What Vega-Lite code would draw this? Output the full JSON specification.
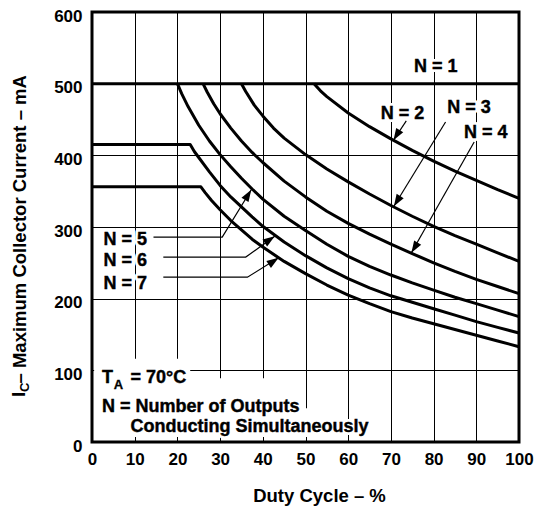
{
  "$schema": "https://vega.github.io/schema/vega-lite/v6.json",
  "width": 427,
  "height": 430,
  "autosize": {"type": "none"},
  "padding": {"left": 92, "top": 12, "right": 19, "bottom": 72},
  "background": "white",
  "config": {
    "font": "Liberation Sans",
    "view": {"stroke": "black", "strokeWidth": 3},
    "axis": {
      "grid": true, "gridColor": "black", "gridOpacity": 1, "gridWidth": 1,
      "domain": false, "ticks": false, "tickSize": 0, "labelFlush": false,
      "labelFontSize": 17, "labelFontWeight": "bold", "labelColor": "black",
      "titleFontSize": 18.5, "titleFontWeight": "bold", "titleColor": "black"
    }
  },
  "datasets": {
    "curves": [
      {"n": "1", "x": 0, "y": 500}, {"n": "1", "x": 100, "y": 500},
      {"n": "2", "x": 52, "y": 500}, {"n": "2", "x": 53.5, "y": 490}, {"n": "2", "x": 55, "y": 482}, {"n": "2", "x": 60, "y": 459}, {"n": "2", "x": 65, "y": 440}, {"n": "2", "x": 70, "y": 423}, {"n": "2", "x": 75, "y": 407}, {"n": "2", "x": 80, "y": 392}, {"n": "2", "x": 85, "y": 378}, {"n": "2", "x": 90, "y": 365}, {"n": "2", "x": 95, "y": 352}, {"n": "2", "x": 100, "y": 340},
      {"n": "3", "x": 35, "y": 500}, {"n": "3", "x": 36, "y": 489}, {"n": "3", "x": 38, "y": 470}, {"n": "3", "x": 40, "y": 455}, {"n": "3", "x": 42.5, "y": 438}, {"n": "3", "x": 45, "y": 424}, {"n": "3", "x": 50, "y": 401}, {"n": "3", "x": 55, "y": 381}, {"n": "3", "x": 60, "y": 363}, {"n": "3", "x": 65, "y": 346}, {"n": "3", "x": 70, "y": 330}, {"n": "3", "x": 75, "y": 315}, {"n": "3", "x": 80, "y": 301}, {"n": "3", "x": 85, "y": 288}, {"n": "3", "x": 90, "y": 276}, {"n": "3", "x": 95, "y": 264}, {"n": "3", "x": 100, "y": 252},
      {"n": "4", "x": 26, "y": 500}, {"n": "4", "x": 27, "y": 488}, {"n": "4", "x": 28.5, "y": 472}, {"n": "4", "x": 30, "y": 458}, {"n": "4", "x": 32.5, "y": 438}, {"n": "4", "x": 35, "y": 420}, {"n": "4", "x": 37.5, "y": 404}, {"n": "4", "x": 40, "y": 390}, {"n": "4", "x": 45, "y": 364}, {"n": "4", "x": 50, "y": 342}, {"n": "4", "x": 55, "y": 322}, {"n": "4", "x": 60, "y": 305}, {"n": "4", "x": 65, "y": 290}, {"n": "4", "x": 70, "y": 276}, {"n": "4", "x": 75, "y": 263}, {"n": "4", "x": 80, "y": 250}, {"n": "4", "x": 85, "y": 238}, {"n": "4", "x": 90, "y": 227}, {"n": "4", "x": 95, "y": 217}, {"n": "4", "x": 100, "y": 207},
      {"n": "5", "x": 20, "y": 500}, {"n": "5", "x": 21, "y": 486}, {"n": "5", "x": 22.5, "y": 468}, {"n": "5", "x": 25, "y": 442}, {"n": "5", "x": 27.5, "y": 420}, {"n": "5", "x": 30, "y": 401}, {"n": "5", "x": 32.5, "y": 384}, {"n": "5", "x": 35, "y": 368}, {"n": "5", "x": 37.5, "y": 353}, {"n": "5", "x": 40, "y": 339}, {"n": "5", "x": 45, "y": 315}, {"n": "5", "x": 50, "y": 295}, {"n": "5", "x": 55, "y": 276}, {"n": "5", "x": 60, "y": 259}, {"n": "5", "x": 65, "y": 245}, {"n": "5", "x": 70, "y": 233}, {"n": "5", "x": 75, "y": 222}, {"n": "5", "x": 80, "y": 212}, {"n": "5", "x": 85, "y": 202}, {"n": "5", "x": 90, "y": 193}, {"n": "5", "x": 95, "y": 184}, {"n": "5", "x": 100, "y": 175},
      {"n": "6", "x": 0, "y": 415}, {"n": "6", "x": 23, "y": 415}, {"n": "6", "x": 24, "y": 405}, {"n": "6", "x": 25, "y": 397}, {"n": "6", "x": 27.5, "y": 377}, {"n": "6", "x": 30, "y": 358}, {"n": "6", "x": 32.5, "y": 342}, {"n": "6", "x": 35, "y": 328}, {"n": "6", "x": 37.5, "y": 314}, {"n": "6", "x": 40, "y": 301}, {"n": "6", "x": 45, "y": 279}, {"n": "6", "x": 50, "y": 260}, {"n": "6", "x": 55, "y": 243}, {"n": "6", "x": 60, "y": 228}, {"n": "6", "x": 65, "y": 215}, {"n": "6", "x": 70, "y": 204}, {"n": "6", "x": 75, "y": 195}, {"n": "6", "x": 80, "y": 186}, {"n": "6", "x": 85, "y": 177}, {"n": "6", "x": 90, "y": 168}, {"n": "6", "x": 95, "y": 160}, {"n": "6", "x": 100, "y": 152},
      {"n": "7", "x": 0, "y": 356}, {"n": "7", "x": 25.5, "y": 356}, {"n": "7", "x": 26.5, "y": 348}, {"n": "7", "x": 28, "y": 337}, {"n": "7", "x": 30, "y": 324}, {"n": "7", "x": 32.5, "y": 309}, {"n": "7", "x": 35, "y": 296}, {"n": "7", "x": 37.5, "y": 283}, {"n": "7", "x": 40, "y": 272}, {"n": "7", "x": 45, "y": 252}, {"n": "7", "x": 50, "y": 235}, {"n": "7", "x": 55, "y": 219}, {"n": "7", "x": 60, "y": 205}, {"n": "7", "x": 65, "y": 193}, {"n": "7", "x": 70, "y": 182}, {"n": "7", "x": 75, "y": 173}, {"n": "7", "x": 80, "y": 165}, {"n": "7", "x": 85, "y": 157}, {"n": "7", "x": 90, "y": 149}, {"n": "7", "x": 95, "y": 141}, {"n": "7", "x": 100, "y": 133}
    ],
    "labels": [
      {"t": "N = 1", "x": 75.4, "y": 515.6},
      {"t": "N = 2", "x": 67.6, "y": 450.2},
      {"t": "N = 3", "x": 83.2, "y": 459.6},
      {"t": "N = 4", "x": 87.1, "y": 424.7},
      {"t": "N = 5", "x": 2.7, "y": 274.9},
      {"t": "N = 6", "x": 2.7, "y": 245.7},
      {"t": "N = 7", "x": 2.7, "y": 213.3},
      {"t": "T", "x": 2.34, "y": 81.8},
      {"t": "= 70°C", "x": 9.0, "y": 81.8},
      {"t": "N = Number of Outputs", "x": 2.34, "y": 42.2},
      {"t": "Conducting Simultaneously", "x": 9.0, "y": 13.9}
    ],
    "boxes": [
      {"x": 0.5, "x2": 23, "y": 7, "y2": 116},
      {"x": 23, "x2": 49, "y": 7, "y2": 89},
      {"x": 49, "x2": 57, "y": 7, "y2": 47}
    ],
    "leaders": [
      {"id": "N2", "k": 0, "x": 73.6, "y": 448}, {"id": "N2", "k": 1, "x": 70.6, "y": 421},
      {"id": "N3", "k": 0, "x": 82.8, "y": 446.5}, {"id": "N3", "k": 1, "x": 70.7, "y": 329},
      {"id": "N4", "k": 0, "x": 89.5, "y": 418.6}, {"id": "N4", "k": 1, "x": 74.8, "y": 264},
      {"id": "N5", "k": 0, "x": 14.4, "y": 286}, {"id": "N5", "k": 1, "x": 30.5, "y": 286}, {"id": "N5", "k": 2, "x": 37.3, "y": 352},
      {"id": "N6", "k": 0, "x": 16.7, "y": 258}, {"id": "N6", "k": 1, "x": 36, "y": 258}, {"id": "N6", "k": 2, "x": 42.8, "y": 287},
      {"id": "N7", "k": 0, "x": 16.7, "y": 230}, {"id": "N7", "k": 1, "x": 36.4, "y": 230}, {"id": "N7", "k": 2, "x": 43.7, "y": 257}
    ],
    "tips": [
      {"id": "N2", "x": 70.6, "y": 421},
      {"id": "N3", "x": 70.7, "y": 329},
      {"id": "N4", "x": 74.8, "y": 264},
      {"id": "N5", "x": 37.3, "y": 352},
      {"id": "N6", "x": 42.8, "y": 287},
      {"id": "N7", "x": 43.7, "y": 257}
    ]
  },
  "encoding": {
    "x": {
      "field": "x", "type": "quantitative",
      "scale": {"domain": [0, 100], "nice": false, "zero": false},
      "axis": {
        "values": [0, 10, 20, 30, 40, 50, 60, 70, 80, 90, 100],
        "labelPadding": 9,
        "title": "Duty Cycle – %",
        "titleX": 227, "titleY": 59, "titleAlign": "center", "titleBaseline": "alphabetic"
      }
    },
    "y": {
      "field": "y", "type": "quantitative",
      "scale": {"domain": [0, 600], "nice": false},
      "axis": {
        "values": [0, 100, 200, 300, 400, 500, 600],
        "labelPadding": 10, "labelOffset": 4,
        "title": "– Maximum Collector Current – mA",
        "titleAngle": 270, "titleAlign": "left", "titleBaseline": "alphabetic",
        "titleX": -66.7, "titleY": 371
      }
    }
  },
  "layer": [
    {
      "data": {"name": "boxes"},
      "mark": {"type": "rect", "color": "white", "opacity": 1},
      "encoding": {"x2": {"field": "x2"}, "y2": {"field": "y2"}}
    },
    {
      "data": {"name": "labels"},
      "mark": {"type": "text", "align": "left", "baseline": "alphabetic", "fontSize": 18, "fontWeight": "bold", "fill": "white", "stroke": "white", "strokeWidth": 6, "strokeJoin": "round"},
      "encoding": {"text": {"field": "t"}}
    },
    {
      "data": {"name": "curves"},
      "mark": {"type": "line", "color": "black", "strokeWidth": 3, "strokeJoin": "round"},
      "encoding": {"detail": {"field": "n"}, "order": {"field": "x", "type": "quantitative"}}
    },
    {
      "data": {"name": "leaders"},
      "mark": {"type": "line", "color": "black", "strokeWidth": 1.2},
      "encoding": {"detail": {"field": "id"}, "order": {"field": "k", "type": "quantitative"}}
    },
    {
      "data": {"name": "tips"},
      "transform": [{"filter": "datum.id == 'N2' || datum.id == 'N3' || datum.id == 'N4'"}],
      "mark": {"type": "point", "shape": "M0,0L-0.55,1.6L0.55,1.6Z", "filled": true, "color": "black", "opacity": 1, "size": 225, "angle": 211.5}
    },
    {
      "data": {"name": "tips"},
      "transform": [{"filter": "datum.id == 'N5'"}],
      "mark": {"type": "point", "shape": "M0,0L-0.55,1.6L0.55,1.6Z", "filled": true, "color": "black", "opacity": 1, "size": 225, "angle": 31.5}
    },
    {
      "data": {"name": "tips"},
      "transform": [{"filter": "datum.id == 'N6' || datum.id == 'N7'"}],
      "mark": {"type": "point", "shape": "M0,0L-0.55,1.6L0.55,1.6Z", "filled": true, "color": "black", "opacity": 1, "size": 225, "angle": 56}
    },
    {
      "data": {"name": "labels"},
      "mark": {"type": "text", "align": "left", "baseline": "alphabetic", "fontSize": 18, "fontWeight": "bold", "fill": "black", "stroke": "black", "strokeWidth": 0.4},
      "encoding": {"text": {"field": "t"}}
    },
    {
      "data": {"values": [{"t": "A", "x": 5.1, "y": 74.6}]},
      "mark": {"type": "text", "align": "left", "baseline": "alphabetic", "fontSize": 13, "fontWeight": "bold", "fill": "black", "stroke": "black", "strokeWidth": 0.3},
      "encoding": {"text": {"field": "t"}}
    },
    {
      "data": {"values": [{"t": "I", "x": -15.6, "y": 62.7}]},
      "mark": {"type": "text", "angle": 270, "align": "left", "baseline": "alphabetic", "fontSize": 18.5, "fontWeight": "bold", "color": "black"},
      "encoding": {"text": {"field": "t"}}
    },
    {
      "data": {"values": [{"t": "C", "x": -14.7, "y": 69.8}]},
      "mark": {"type": "text", "angle": 270, "align": "left", "baseline": "alphabetic", "fontSize": 13, "fontWeight": "bold", "color": "black"},
      "encoding": {"text": {"field": "t"}}
    }
  ]
}
